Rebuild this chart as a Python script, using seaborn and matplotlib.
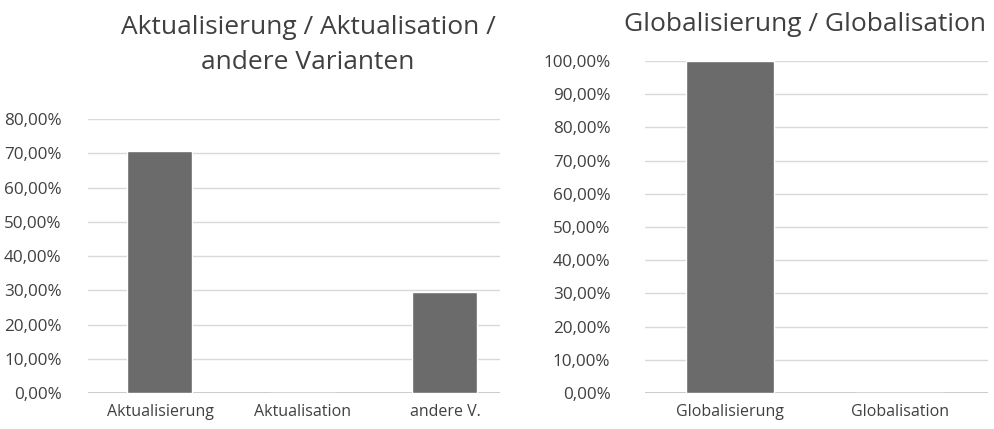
import pandas as pd
import seaborn as sns
import matplotlib.pyplot as plt
from matplotlib.ticker import FuncFormatter

# data
akt_labels = ['Aktualisierung', 'Aktualisation', 'andere V.']
akt_values = [0.706, 0.0, 0.294]
glob_labels = ['Globalisierung', 'Globalisation']
glob_values = [1.0, 0.0]

sns.set_style('white')
plt.rcParams['font.family'] = ['Open Sans', 'DejaVu Sans']

bar_color = '#6b6b6b'
grid_color = '#d9d9d9'
text_color = '#404040'


def pct(v, pos):
    return f'{v * 100:.2f}%'.replace('.', ',')


def style_axis(ax, top, step, xlim, ypad):
    ax.set_ylim(0, top)
    ax.set_xlim(*xlim)
    ax.set_yticks([i * step for i in range(int(round(top / step)) + 1)])
    ax.yaxis.set_major_formatter(FuncFormatter(pct))
    ax.grid(axis='y', color=grid_color, linewidth=1)
    ax.set_axisbelow(True)
    sns.despine(ax=ax, left=True, bottom=True)
    ax.axhline(0, color='#bfbfbf', linewidth=1.2, zorder=0)
    ax.tick_params(axis='both', length=0, labelcolor=text_color)
    ax.tick_params(axis='x', pad=8, labelsize=11.5)
    ax.tick_params(axis='y', pad=ypad, labelsize=12.3)
    ax.set_xlabel('')
    ax.set_ylabel('')


fig = plt.figure(figsize=(9.94, 4.29), dpi=100)

ax1 = fig.add_axes([0.0885, 0.0839, 0.4145, 0.6387])
df1 = pd.DataFrame({'label': akt_labels, 'value': akt_values})
sns.barplot(data=df1, x='label', y='value', color=bar_color, width=0.456,
            saturation=1, ax=ax1)
style_axis(ax1, 0.8, 0.1, (-0.505, 2.386), 19)

ax2 = fig.add_axes([0.649, 0.0839, 0.345, 0.7739])
df2 = pd.DataFrame({'label': glob_labels, 'value': glob_values})
sns.barplot(data=df2, x='label', y='value', color=bar_color, width=0.52,
            saturation=1, ax=ax2)
style_axis(ax2, 1.0, 0.1, (-0.5, 1.52), 25)

fig.text(0.31, 0.937, 'Aktualisierung / Aktualisation /', ha='center', va='center',
         fontsize=19, color=text_color)
fig.text(0.31, 0.855, 'andere Varianten', ha='center', va='center',
         fontsize=19, color=text_color)
fig.text(0.81, 0.942, 'Globalisierung / Globalisation', ha='center', va='center',
         fontsize=19, color=text_color)

fig.savefig('out.png', dpi=100)
